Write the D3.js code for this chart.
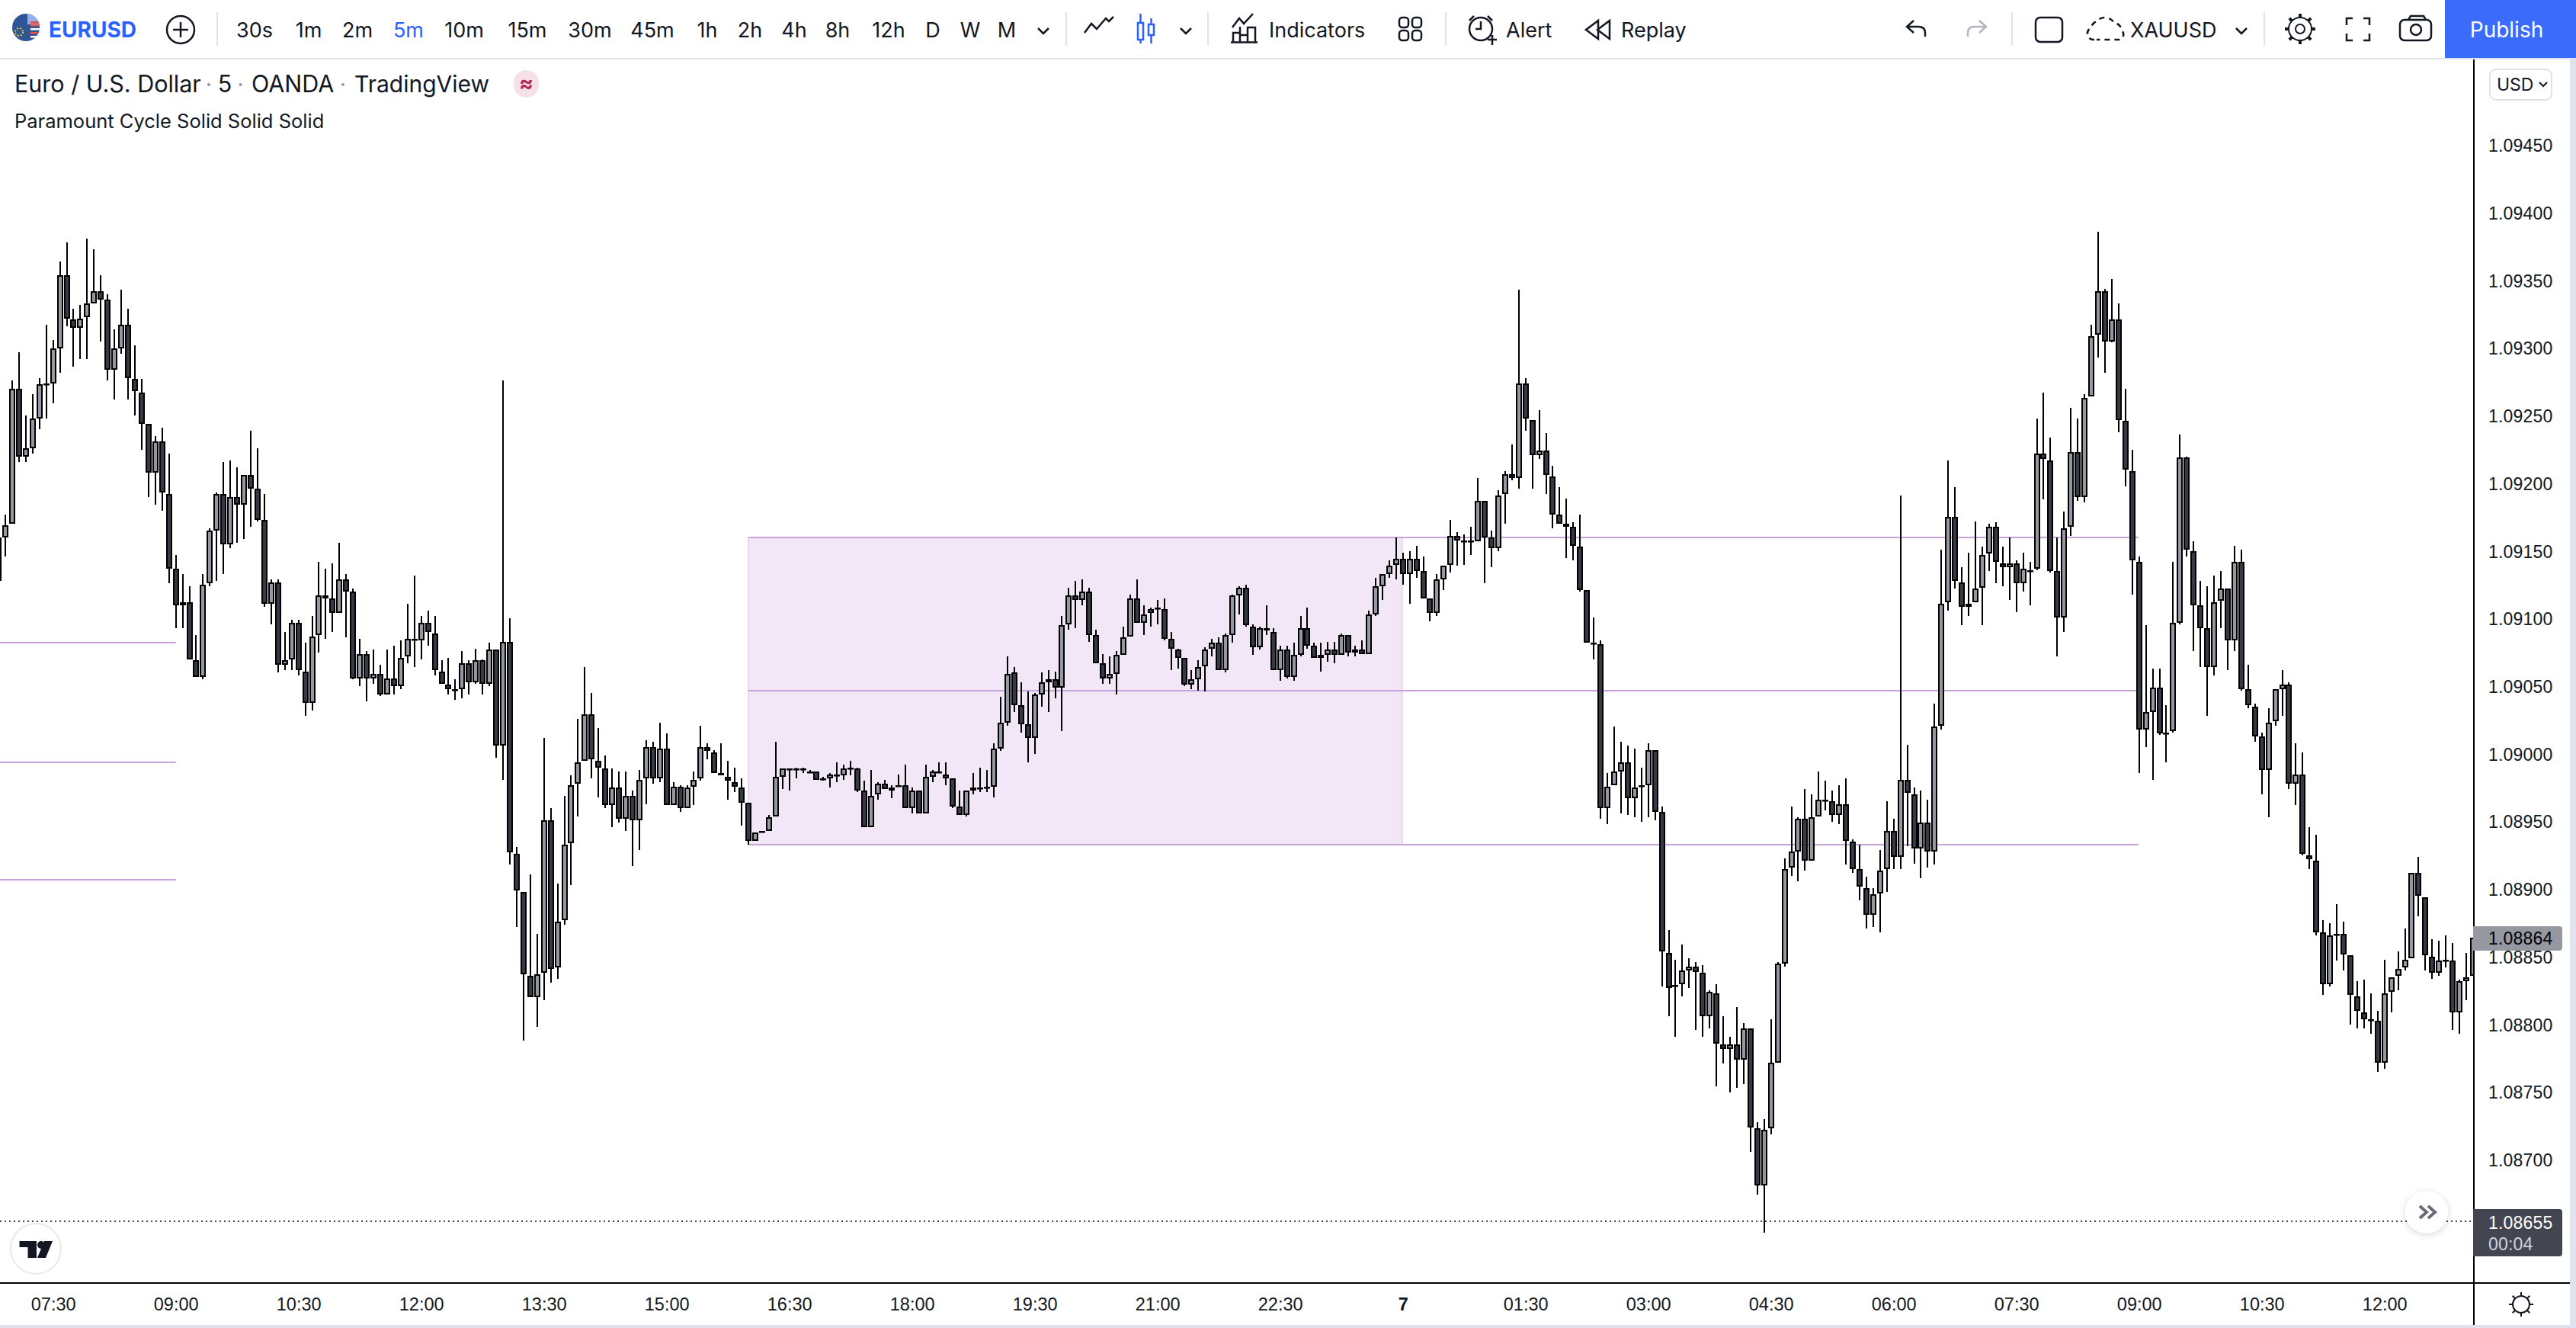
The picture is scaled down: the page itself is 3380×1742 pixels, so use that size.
<!DOCTYPE html>
<html>
<head>
<meta charset="utf-8">
<title>EURUSD</title>
<script src="https://cdn.jsdelivr.net/npm/d3@7"></script>
<style>
html, body { margin: 0; padding: 0; background: #fff; overflow: hidden; }
svg { display: block; }
</style>
</head>
<body>
<div id="chart"></div>
<script>
// Candle values, in 1/100000 of a dollar (109354 = 1.09354), ten bars a row
const opens = [
109128,109160,109170,109270,109220,109226,109248,109273,109274,109300,
109354,109321,109315,109323,109333,109342,109336,109284,109300,109317,
109277,109267,109244,109208,109231,109192,109137,109110,109112,109069,
109057,109126,109165,109192,109155,109190,109184,109206,109196,109173,
109111,109127,109066,109070,109097,109061,109038,109088,109117,109115,
109104,109129,109120,109056,109074,109056,109059,109044,109056,109050,
109072,109085,109084,109097,109089,109061,109051,109048,109048,109067,
109053,109069,109052,109077,109006,109083,108926,108898,108836,108820,
108838,108951,108842,108877,108934,108978,108995,109029,108995,108989,
108962,108975,108952,108969,108951,108982,109005,108982,109004,108962,
108976,108960,108976,108982,109005,109001,108986,108983,108979,108975,
108964,108936,108942,108943,108954,108983,108989,108989,108989,108987,
108987,108982,108982,108985,108984,108989,108989,108973,108946,108970,
108978,108973,108977,108977,108960,108973,108956,108983,108987,108985,
108982,108961,108955,108973,108975,108975,108976,109004,109023,109060,
109036,109022,109012,109044,109053,109055,109049,109096,109117,109114,
109120,109088,109067,109056,109059,109073,109087,109115,109097,109104,
109107,109107,109085,109077,109071,109051,109055,109065,109078,109082,
109062,109088,109117,109123,109094,109079,109093,109090,109062,109077,
109057,109073,109093,109080,109071,109073,109077,109073,109088,109075,
109077,109074,109103,109124,109133,109140,109144,109133,109144,109135,
109115,109104,109129,109140,109161,109158,109158,109157,109187,109160,
109152,109192,109207,109204,109274,109247,109221,109224,109205,109177,
109170,109168,109153,109121,109082,109081,108960,108977,108987,108994,
108967,108977,108977,109003,108957,108853,108829,108830,108840,108843,
108838,108806,108823,108785,108782,108785,108774,108797,108723,108681,
108723,108772,108845,108916,108928,108952,108921,108954,108966,108965,
108955,108963,108935,108915,108901,108881,108897,108915,108943,108924,
108981,108970,108930,108949,108928,109021,109112,109175,109127,109109,
109112,109123,109148,109168,109141,109138,109141,109126,109136,109137,
109222,109217,109135,109101,109168,109223,109190,109264,109310,109342,
109305,109321,109246,109209,109142,109018,109031,109049,109015,109017,
109097,109219,109150,109110,109093,109064,109113,109122,109084,109142,
109048,109035,109013,108988,109024,109048,109051,108978,108985,108925,
108921,108868,108830,108867,108867,108851,108821,108809,108804,108803,
108772,108824,108836,108842,108849,108912,108894,108850,108838,108847,
108847,108809,108832,108836
];
const highs = [
109160,109177,109276,109297,109250,109266,109278,109317,109306,109364,
109378,109329,109332,109381,109373,109354,109340,109314,109343,109329,
109302,109277,109244,109235,109241,109222,109147,109133,109124,109088,
109133,109167,109193,109216,109217,109212,109206,109239,109226,109192,
109129,109129,109090,109099,109099,109082,109102,109142,109137,109141,
109156,109133,109122,109085,109076,109077,109066,109077,109080,109084,
109111,109132,109102,109106,109102,109069,109071,109055,109076,109069,
109078,109070,109082,109077,109276,109100,108931,108898,108911,108867,
109012,108960,108904,108969,108984,109026,109064,109045,109019,108999,
108989,108987,108987,108973,108988,109010,109009,109023,109015,108979,
108977,108977,108987,109021,109008,109003,109008,108995,108990,108982,
108964,108942,108943,108955,109009,108989,108989,108990,108990,108988,
108987,108983,108986,108994,108992,108995,108990,108980,108988,108979,
108981,108977,108985,108992,108975,108973,108992,108988,108994,108994,
108982,108973,108973,108986,108990,108988,109008,109042,109072,109064,
109053,109046,109045,109060,109062,109061,109102,109123,109128,109129,
109123,109092,109074,109072,109076,109094,109118,109129,109110,109108,
109114,109115,109090,109078,109071,109062,109069,109079,109085,109086,
109089,109118,109124,109125,109096,109094,109110,109093,109080,109080,
109082,109102,109108,109082,109082,109083,109083,109089,109088,109080,
109084,109106,109130,109133,109143,109160,109149,109150,109154,109146,
109115,109133,109139,109173,109164,109162,109168,109204,109187,109165,
109195,109209,109229,109343,109278,109247,109254,109237,109213,109197,
109189,109171,109177,109121,109101,109084,108986,109020,109009,109006,
109004,108990,109008,109003,108961,108870,108848,108859,108849,108846,
108844,108825,108830,108806,108791,108813,108801,108797,108728,108730,
108804,108846,108923,108961,108953,108974,108970,108987,108980,108973,
108977,108982,108937,108933,108909,108901,108929,108965,108952,109191,
109007,108975,108973,108966,109037,109151,109217,109197,109138,109149,
109172,109153,109170,109171,109153,109160,109143,109149,109142,109248,
109267,109234,109160,109179,109256,109248,109266,109317,109386,109344,
109351,109333,109270,109225,109146,109095,109063,109063,109036,109142,
109236,109220,109157,109128,109124,109132,109135,109122,109154,109151,
109066,109037,109016,109034,109048,109062,109053,109008,109001,108946,
108940,108877,108875,108889,108876,108851,108832,108833,108823,108810,
108848,108835,108854,108871,108912,108924,108894,108863,108862,108866,
108860,108833,108853,108864
];
const lows = [
109128,109146,109170,109216,109216,109222,109240,109248,109259,109282,
109316,109286,109292,109292,109333,109305,109276,109262,109296,109262,
109250,109225,109190,109184,109180,109126,109093,109093,109070,109057,
109055,109124,109128,109133,109152,109156,109159,109168,109172,109109,
109096,109060,109062,109062,109058,109028,109032,109075,109085,109090,
109104,109086,109055,109050,109039,109052,109043,109044,109044,109048,
109067,109064,109070,109080,109058,109052,109044,109040,109041,109044,
109052,109044,109050,108997,108981,108918,108872,108788,108820,108798,
108818,108831,108834,108874,108903,108954,108995,108982,108968,108960,
108946,108949,108943,108917,108929,108963,108978,108979,108962,108962,
108957,108960,108962,108980,108996,108986,108984,108966,108972,108947,
108933,108936,108942,108943,108954,108974,108973,108982,108986,108986,
108981,108980,108975,108979,108981,108984,108972,108946,108946,108966,
108974,108967,108976,108960,108956,108956,108956,108979,108986,108977,
108960,108955,108954,108970,108972,108972,108968,109002,109021,109031,
109016,108994,109000,109035,109031,109041,109017,109092,109093,109110,
109083,109067,109052,109052,109044,109073,109087,109097,109088,109094,
109096,109084,109062,109063,109050,109048,109047,109046,109072,109062,
109060,109082,109103,109094,109073,109077,109088,109062,109054,109056,
109054,109072,109078,109071,109061,109068,109067,109073,109072,109072,
109074,109074,109102,109114,109130,109129,109125,109111,109130,109115,
109098,109102,109121,109134,109139,109140,109147,109157,109126,109138,
109150,109170,109202,109196,109239,109196,109218,109192,109167,109170,
109145,109143,109120,109082,109070,108952,108948,108977,108956,108955,
108953,108950,108953,108951,108828,108806,108791,108821,108827,108796,
108791,108797,108754,108771,108750,108753,108756,108706,108674,108646,
108719,108772,108843,108910,108906,108914,108921,108954,108958,108950,
108948,108918,108912,108892,108871,108872,108868,108898,108915,108915,
108932,108919,108908,108916,108918,109018,109106,109122,109095,109102,
109112,109095,109135,109126,109124,109114,109105,109120,109110,109136,
109188,109134,109072,109090,109161,109187,109186,109264,109293,109282,
109304,109238,109198,109118,108986,109005,108981,109014,108994,109016,
109096,109146,109076,109064,109028,109058,109093,109062,109076,109047,
109034,109009,108970,108953,109021,109028,108974,108962,108925,108915,
108866,108822,108828,108847,108840,108800,108797,108797,108793,108765,
108767,108809,108825,108840,108849,108880,108840,108834,108836,108842,
108796,108793,108818,108836
];
const closes = [
109160,109169,109270,109220,109226,109248,109273,109274,109300,109354,
109322,109315,109322,109333,109342,109336,109284,109300,109317,109278,
109268,109244,109208,109231,109193,109137,109110,109112,109070,109057,
109125,109165,109192,109155,109190,109184,109206,109196,109173,109111,
109127,109066,109069,109097,109062,109038,109087,109117,109115,109104,
109129,109120,109056,109074,109056,109059,109044,109056,109050,109071,
109085,109084,109097,109090,109062,109052,109048,109047,109067,109053,
109069,109052,109077,109006,109083,108927,108899,108837,108820,108837,
108951,108841,108876,108933,108977,108994,109029,108996,108990,108962,
108975,108952,108969,108951,108981,109005,108982,109004,108962,108976,
108960,108975,108981,109005,109002,108986,108984,108980,108976,108964,
108936,108942,108943,108953,108983,108989,108988,108988,108988,108987,
108981,108981,108985,108984,108989,108990,108973,108946,108969,108978,
108974,108975,108976,108960,108973,108956,108983,108987,108986,108982,
108961,108955,108973,108975,108975,108976,109004,109023,109059,109036,
109022,109012,109044,109053,109055,109049,109095,109117,109114,109120,
109088,109067,109056,109059,109073,109086,109115,109097,109103,109107,
109108,109085,109078,109071,109051,109055,109064,109077,109082,109062,
109088,109117,109123,109095,109079,109093,109091,109062,109077,109057,
109073,109093,109080,109071,109073,109077,109073,109088,109075,109077,
109074,109103,109124,109133,109139,109144,109133,109144,109135,109115,
109104,109129,109139,109161,109158,109157,109157,109187,109160,109152,
109191,109207,109204,109274,109248,109221,109224,109206,109177,109170,
109168,109154,109121,109082,109081,108960,108976,108987,108994,108967,
108975,108976,109003,108957,108854,108827,108828,108840,108843,108839,
108806,108824,108786,108782,108785,108774,108797,108724,108681,108722,
108772,108845,108915,108928,108952,108921,108953,108966,108965,108955,
108963,108936,108915,108902,108881,108896,108914,108943,108924,108981,
108971,108930,108949,108928,109020,109111,109175,109128,109109,109111,
109122,109147,109168,109142,109138,109141,109126,109137,109136,109222,
109218,109135,109101,109167,109223,109190,109263,109309,109342,109305,
109321,109247,109210,109143,109018,109031,109049,109015,109016,109097,
109219,109151,109110,109093,109064,109112,109122,109084,109142,109048,
109036,109013,108988,109023,109048,109051,108978,108985,108926,108922,
108868,108830,108866,108866,108852,108822,108810,108804,108803,108772,
108823,108835,108841,108848,108912,108895,108851,108838,108847,108848,
108809,108832,108835,108864
];

// Axes
const priceTicks = [109450,109400,109350,109300,109250,109200,109150,109100,109050,109000,108950,108900,108850,108800,108750,108700];
const timeLabels = ['07:30','09:00','10:30','12:00','13:30','15:00','16:30','18:00','19:30','21:00','22:30','7','01:30','03:00','04:30','06:00','07:30','09:00','10:30','12:00'];
const timeTickBars = [8,26,44,62,80,98,116,134,152,170,188,206,224,242,260,278,296,314,332,350];

// Drawings on the chart, prices in the same units
const rangeLevels = [109160, 109047, 108933];
const rangeBars = [110, 205.9, 313.9]; // box start, box end, lines end
const oldLevels = [109082, 108994, 108907];
const oldLevelsEndBar = 26;
const lastClose = 108864;
const livePrice = 108655;

const intervals = ['30s','1m','2m','5m','10m','15m','30m','45m','1h','2h','4h','8h','12h','D','W','M'];
const intervalX = [334,405,469,536,609,692,774,856,928,984,1042,1099,1166,1224,1273,1321];

const W = 3380, H = 1742;
const paneRight = 3245, paneTop = 78, paneBottom = 1683;
const uiFont = 'Inter, "Noto Sans", sans-serif';
const axisFont = '"Liberation Sans", Arial, sans-serif';
const ink = '#131722';
const blue = '#2962ff';

const svg = d3.select('#chart').append('svg').attr('width', W).attr('height', H);
svg.append('rect').attr('width', W).attr('height', H).attr('fill', '#fff');

const x = d3.scaleLinear().domain([0, 363]).range([-1.9, 3245]);
const y = d3.scaleLinear().domain([108700, 109450]).range([1521.3, 190.4]);
const fmt = v => (v / 100000).toFixed(5);

const clip = svg.append('defs').append('clipPath').attr('id', 'pane');
clip.append('rect').attr('x', 0).attr('y', paneTop).attr('width', paneRight).attr('height', paneBottom - paneTop);

const pane = svg.append('g').attr('clip-path', 'url(#pane)');

// range box and its three levels
pane.append('rect')
    .attr('x', x(rangeBars[0])).attr('y', y(rangeLevels[0]))
    .attr('width', x(rangeBars[1]) - x(rangeBars[0]))
    .attr('height', y(rangeLevels[2]) - y(rangeLevels[0]))
    .attr('fill', '#f2e7f6');
[rangeBars[0], rangeBars[1]].forEach(b => {
    pane.append('rect').attr('x', x(b) - 1).attr('y', y(rangeLevels[0])).attr('width', 2)
        .attr('height', y(rangeLevels[2]) - y(rangeLevels[0])).attr('fill', '#e8d8ef');
});
pane.selectAll('.level').data(rangeLevels).enter().append('line')
    .attr('x1', x(rangeBars[0])).attr('x2', x(rangeBars[2]))
    .attr('y1', d => Math.round(y(d))).attr('y2', d => Math.round(y(d)))
    .attr('stroke', '#c8a3d8').attr('stroke-width', 2);
pane.selectAll('.old').data(oldLevels).enter().append('line')
    .attr('x1', 0).attr('x2', x(oldLevelsEndBar))
    .attr('y1', d => Math.round(y(d))).attr('y2', d => Math.round(y(d)))
    .attr('stroke', '#c8a3d8').attr('stroke-width', 2);

// live price dotted line
pane.append('line').attr('x1', 0).attr('x2', paneRight)
    .attr('y1', Math.round(y(livePrice)) + 1).attr('y2', Math.round(y(livePrice)) + 1)
    .attr('stroke', '#434651').attr('stroke-width', 2).attr('stroke-dasharray', '2 4');

// candles
const bars = d3.range(opens.length).map(i => ({ i, o: opens[i], h: highs[i], l: lows[i], c: closes[i] }));
const candle = pane.selectAll('.candle').data(bars).enter().append('g').attr('class', 'candle');
candle.append('rect')
    .attr('x', d => Math.round(x(d.i)) - 1).attr('width', 2)
    .attr('y', d => Math.round(y(d.h))).attr('height', d => Math.max(1, Math.round(y(d.l)) - Math.round(y(d.h))))
    .attr('fill', '#000');
candle.append('rect')
    .attr('x', d => Math.round(x(d.i)) - 3).attr('width', 6)
    .attr('y', d => Math.round(y(Math.max(d.o, d.c))) + 1)
    .attr('height', d => Math.max(0.5, Math.round(y(Math.min(d.o, d.c))) - Math.round(y(Math.max(d.o, d.c))) - 2))
    .attr('fill', d => d.c >= d.o ? '#9598a1' : '#363a45')
    .attr('stroke', '#000').attr('stroke-width', 2);

// TV logo
const logo = svg.append('g');
logo.append('rect').attr('x', 14).attr('y', 1605).attr('width', 66).attr('height', 66).attr('rx', 33)
    .attr('fill', '#fff').attr('stroke', '#e9e9ea').attr('stroke-width', 2);
logo.append('path').attr('fill', ink).attr('d', 'M25.5 1628H48V1650H36.5V1636H25.5ZM58 1628H69L60 1650H49Z');
logo.append('circle').attr('cx', 54).attr('cy', 1633).attr('r', 5).attr('fill', ink);

// scroll button
const shadow = svg.select('defs').append('filter').attr('id', 'soft').attr('x', '-40%').attr('y', '-40%').attr('width', '180%').attr('height', '180%');
shadow.append('feDropShadow').attr('dx', 0).attr('dy', 2).attr('stdDeviation', 4).attr('flood-color', '#000').attr('flood-opacity', 0.16);
svg.append('circle').attr('cx', 3184).attr('cy', 1590).attr('r', 28).attr('fill', '#fff').attr('filter', 'url(#soft)');
svg.append('path').attr('d', 'M3175 1582l9 8-9 8M3186 1582l9 8-9 8').attr('fill', 'none').attr('stroke', '#6a6d78').attr('stroke-width', 4);

// axis frames
svg.append('rect').attr('x', paneRight).attr('y', paneTop).attr('width', 2).attr('height', 1738 - paneTop).attr('fill', '#000');
svg.append('rect').attr('x', 0).attr('y', paneBottom - 1).attr('width', 3372).attr('height', 2).attr('fill', '#000');
svg.append('rect').attr('x', 3372).attr('y', 78).attr('width', 8).attr('height', H - 78).attr('fill', '#e0e3eb');
svg.append('rect').attr('x', 0).attr('y', 1738).attr('width', W).attr('height', 4).attr('fill', '#e0e3eb');

// price axis
const yAxis = d3.axisRight(y).tickValues(priceTicks).tickFormat(fmt).tickSize(0).tickPadding(0);
const yG = svg.append('g').attr('transform', `translate(3265,0)`).call(yAxis);
yG.select('.domain').remove();
yG.selectAll('text').attr('font-family', axisFont).attr('font-size', 23).attr('fill', ink).attr('dy', '0.36em').style('letter-spacing', '0.2px');

// time axis
const xAxis = d3.axisBottom(x).tickValues(timeTickBars).tickFormat((d, i) => timeLabels[i]).tickSize(0).tickPadding(0);
const xG = svg.append('g').attr('transform', `translate(0,1711)`).call(xAxis);
xG.select('.domain').remove();
xG.selectAll('text').attr('font-family', axisFont).attr('font-size', 23.5).attr('fill', ink).attr('dy', '0.36em')
    .attr('font-weight', (d, i) => timeLabels[i] === '7' ? 700 : 400);

// price tags
function tag(top, bottom, fill) {
    svg.append('path').attr('fill', fill)
        .attr('d', `M${paneRight} ${top}H3358a4 4 0 0 1 4 4V${bottom - 4}a4 4 0 0 1 -4 4H${paneRight}Z`);
}
tag(1215, 1247, '#9598a1');
svg.append('text').attr('x', 3265).attr('y', 1231).attr('dy', '0.36em').text(fmt(lastClose))
    .attr('font-family', axisFont).attr('font-size', 23).attr('fill', '#000').style('letter-spacing', '0.2px');
tag(1586, 1648, '#434651');
svg.append('text').attr('x', 3265).attr('y', 1604).attr('dy', '0.36em').text(fmt(livePrice))
    .attr('font-family', axisFont).attr('font-size', 23).attr('fill', '#fff').style('letter-spacing', '0.2px');
svg.append('text').attr('x', 3265).attr('y', 1632).attr('dy', '0.36em').text('00:04')
    .attr('font-family', axisFont).attr('font-size', 23).attr('fill', '#d1d4dc').style('letter-spacing', '0.2px');

// top bar helpers
function label(txt, px, py, size, opts = {}) {
    return svg.append('text').text(txt).attr('x', px).attr('y', py).attr('dy', '0.36em')
        .attr('font-family', uiFont).attr('font-size', size).attr('fill', opts.fill || ink)
        .attr('font-weight', opts.weight || 400).attr('text-anchor', opts.anchor || 'start');
}
function icon(d, color = ink, width = 2.5) {
    return svg.append('path').attr('d', d).attr('fill', 'none').attr('stroke', color).attr('stroke-width', width);
}
function sep(px) {
    svg.append('rect').attr('x', px).attr('y', 16).attr('width', 2).attr('height', 44).attr('fill', '#e0e3eb');
}

svg.append('rect').attr('x', 0).attr('y', 76).attr('width', W).attr('height', 2).attr('fill', '#e0e3eb');

// symbol flag
const flagClip = svg.select('defs').append('clipPath').attr('id', 'flag');
flagClip.append('circle').attr('cx', 34).attr('cy', 36).attr('r', 18);
const flag = svg.append('g').attr('clip-path', 'url(#flag)');
flag.append('rect').attr('x', 16).attr('y', 18).attr('width', 36).attr('height', 36).attr('fill', '#2f5596');
flag.append('rect').attr('x', 36).attr('y', 18).attr('width', 16).attr('height', 14).attr('fill', '#8fb1ee');
d3.range(4).forEach(k => flag.append('rect').attr('x', 40).attr('y', 32 + k * 5).attr('width', 12).attr('height', 2.5).attr('fill', k % 2 ? '#fff' : '#e0524c'));
flag.append('rect').attr('x', 40).attr('y', 28).attr('width', 12).attr('height', 3).attr('fill', '#e0524c');
flag.append('circle').attr('cx', 25).attr('cy', 42).attr('r', 5).attr('fill', 'none').attr('stroke', '#e8c63f').attr('stroke-width', 2).attr('stroke-dasharray', '2 2');

label('EURUSD', 64, 39, 28, { fill: blue, weight: 700 });
svg.append('circle').attr('cx', 237).attr('cy', 39).attr('r', 18).attr('fill', 'none').attr('stroke', ink).attr('stroke-width', 2.5);
icon('M227 39H247M237 29V49');
sep(284);

intervals.forEach((t, k) => label(t, intervalX[k], 39, 27, { anchor: 'middle', fill: t === '5m' ? blue : ink }));
icon('M1362 37l7 7 7-7');
sep(1398);

// line and candle icons
icon('M1423 43l9-12 7 7 12-14 4 4 6-6', ink, 2.5);
icon('M1493 30h7v22h-7zM1496.5 18v12M1496.5 52v5M1507 32h7v14h-7zM1510.5 24v8M1510.5 46v11', blue, 2.5);
icon('M1549 37l7 7 7-7');
sep(1584);

// indicators icon
icon('M1617 36l9-12 6 7 12-13M1618 55v-12h9v12M1627 55v-20h0M1627 46h10v9M1637 55v-19h10v19M1615 55.5h35', ink, 2.5);
label('Indicators', 1665, 39, 27);

// layouts icon
[[1836,23],[1853,23],[1836,40],[1853,40]].forEach(p => {
    svg.append('rect').attr('x', p[0]).attr('y', p[1]).attr('width', 12).attr('height', 13).attr('rx', 4)
        .attr('fill', 'none').attr('stroke', ink).attr('stroke-width', 2.5);
});
sep(1896);

// alert icon
svg.append('circle').attr('cx', 1943).attr('cy', 38).attr('r', 15).attr('fill', 'none').attr('stroke', ink).attr('stroke-width', 2.5);
icon('M1943 28v10h-7M1928 27l6-6M1958 27l-6-6M1952 52h12M1958 46v13');
label('Alert', 1976, 39, 27);

// replay
icon('M2097 27L2081 39l16 12zM2112 27L2096 39l16 12z');
label('Replay', 2127, 39, 27);

// undo, redo
icon('M2511 27l-9 8 9 8M2503 35h14c7 0 9 4 9 8v5');
icon('M2597 27l9 8-9 8M2605 35h-14c-7 0-9 4-9 8v5', '#b2b5be');
sep(2639);

svg.append('rect').attr('x', 2671).attr('y', 23).attr('width', 35).attr('height', 32).attr('rx', 6)
    .attr('fill', 'none').attr('stroke', ink).attr('stroke-width', 2.5);

// cloud
icon('M2748 52h-2a8 8 0 0 1 -3 -15a18 18 0 0 1 9 -10a14 14 0 0 1 22 3a11 11 0 0 1 10 10a7 7 0 0 1 -3 12h-30', ink, 2.5)
    .attr('stroke-dasharray', '7 6');
label('XAUUSD', 2795, 39, 27);
icon('M2934 37l7 7 7-7');
sep(2970);

// settings gear
const gear = d3.range(8).map(k => {
    const a = k * Math.PI / 4;
    return `M${3018 + 15 * Math.cos(a)} ${38 + 15 * Math.sin(a)}L${3018 + 20 * Math.cos(a)} ${38 + 20 * Math.sin(a)}`;
}).join('');
svg.append('circle').attr('cx', 3018).attr('cy', 38).attr('r', 15).attr('fill', 'none').attr('stroke', ink).attr('stroke-width', 2);
svg.append('circle').attr('cx', 3018).attr('cy', 38).attr('r', 6).attr('fill', 'none').attr('stroke', ink).attr('stroke-width', 2);
icon(gear, ink, 4);

// fullscreen
icon('M3079 33v-9h8M3101 24h8v9M3109 44v9h-8M3087 53h-8v-9');

// camera
svg.append('rect').attr('x', 3149).attr('y', 26).attr('width', 41).attr('height', 27).attr('rx', 6)
    .attr('fill', 'none').attr('stroke', ink).attr('stroke-width', 2.5);
icon('M3160 26l3-5h17l3 5');
svg.append('circle').attr('cx', 3170).attr('cy', 39).attr('r', 7).attr('fill', 'none').attr('stroke', ink).attr('stroke-width', 2.5);

// publish
svg.append('rect').attr('x', 3208).attr('y', 0).attr('width', 172).attr('height', 76).attr('fill', '#3a6bfb');
label('Publish', 3289, 39, 28, { fill: '#fff', anchor: 'middle' });

// legend line
label('Euro / U.S. Dollar', 19, 110, 30.5);
label('5', 295, 110, 30.5, { anchor: 'middle' });
label('OANDA', 330, 110, 30.5);
label('TradingView', 465, 110, 30);
[274, 315.5, 450].forEach(px => svg.append('circle').attr('cx', px).attr('cy', 111).attr('r', 2).attr('fill', '#9598a1'));
svg.append('rect').attr('x', 674).attr('y', 92).attr('width', 33).attr('height', 36).attr('rx', 16.5).attr('fill', '#f7e1e8');
label('≈', 690.5, 109, 28, { fill: '#b22b55', anchor: 'middle', weight: 700 });
label('Paramount Cycle Solid Solid Solid', 19, 159, 25.5);

// USD box and the sun at the corner
svg.append('rect').attr('x', 3267).attr('y', 91).attr('width', 81).attr('height', 40).attr('rx', 8)
    .attr('fill', '#fff').attr('stroke', '#e0e3eb').attr('stroke-width', 2);
svg.append('text').attr('x', 3276).attr('y', 111).attr('dy', '0.36em').text('USD')
    .attr('font-family', uiFont).attr('font-size', 23).attr('fill', ink);
icon('M3332 108l5 5 5-5', ink, 2);
svg.append('circle').attr('cx', 3308).attr('cy', 1711).attr('r', 11).attr('fill', 'none').attr('stroke', ink).attr('stroke-width', 2);
icon(d3.range(8).map(k => {
    const a = k * Math.PI / 4;
    return `M${3308 + 11 * Math.cos(a)} ${1711 + 11 * Math.sin(a)}L${3308 + 16 * Math.cos(a)} ${1711 + 16 * Math.sin(a)}`;
}).join(''), ink, 2);
</script>
</body>
</html>
